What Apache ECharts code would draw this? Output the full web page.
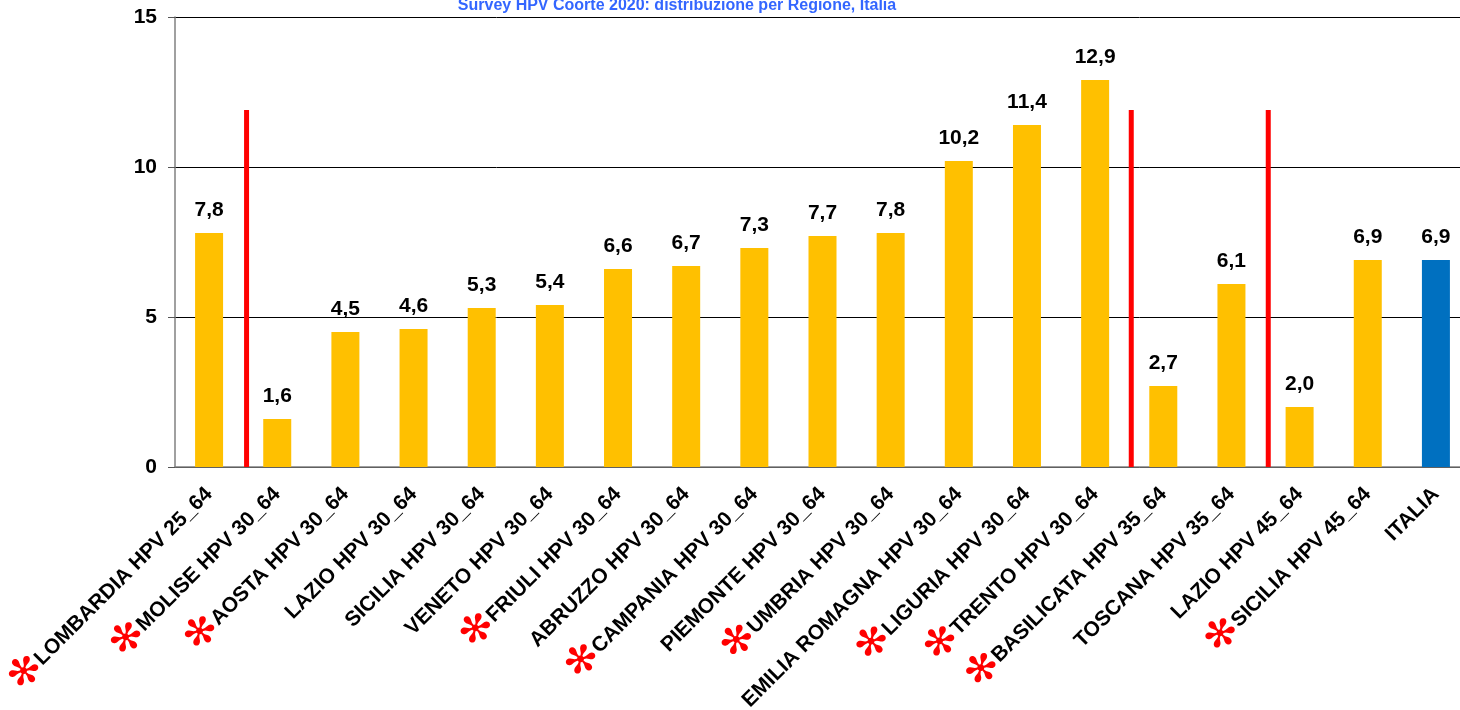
<!DOCTYPE html>
<html>
<head>
<meta charset="utf-8">
<script src="https://cdn.jsdelivr.net/npm/echarts@6/dist/echarts.min.js"></script>
<style>
  html, body { margin: 0; padding: 0; background: #fff; }
  #chart { width: 1460px; height: 710px; }
</style>
</head>
<body>
<div id="chart"></div>
<script>
// categorie e valori
const regioni = [
  'LOMBARDIA HPV 25_64', 'MOLISE HPV 30_64', 'AOSTA HPV 30_64', 'LAZIO HPV 30_64',
  'SICILIA HPV 30_64', 'VENETO HPV 30_64', 'FRIULI HPV 30_64', 'ABRUZZO HPV 30_64',
  'CAMPANIA HPV 30_64', 'PIEMONTE HPV 30_64', 'UMBRIA HPV 30_64', 'EMILIA ROMAGNA HPV 30_64',
  'LIGURIA HPV 30_64', 'TRENTO HPV 30_64', 'BASILICATA HPV 35_64', 'TOSCANA HPV 35_64',
  'LAZIO HPV 45_64', 'SICILIA HPV 45_64', 'ITALIA'
]
const valori = [7.8, 1.6, 4.5, 4.6, 5.3, 5.4, 6.6, 6.7, 7.3, 7.7, 7.8, 10.2, 11.4, 12.9, 2.7, 6.1, 2.0, 6.9, 6.9]
// regioni con asterisco
const conAsterisco = [0, 1, 2, 6, 8, 10, 12, 13, 14, 17]
// linee rosse di separazione (posizione sull'asse, altezza)
const separatori = [1.05, 14.03, 16.04]
const altezzaSeparatore = 11.9
const yTicks = [0, 5, 10, 15]

const chart = echarts.init(document.getElementById('chart'))

const barData = valori.map((v, i) => ({
  value: v,
  itemStyle: { color: regioni[i] === 'ITALIA' ? '#0070C0' : '#FFC000' }
}))

const sepSeries = separatori.map(x => ({
  type: 'line',
  xAxisIndex: 1,
  data: [[x, 0], [x, altezzaSeparatore]],
  symbol: 'none',
  silent: true,
  lineStyle: { color: '#FF0000', width: 5 },
  z: 5
}))

chart.setOption({
  animation: false,
  textStyle: { fontFamily: 'Liberation Sans, Arial, sans-serif' },
  title: {
    text: 'Survey HPV Coorte 2020: distribuzione per Regione, Italia',
    left: 672,
    textAlign: 'center',
    top: -7,
    textStyle: {
      color: '#3366FF',
      fontSize: 16,
      fontWeight: 'bold',
      fontFamily: 'Liberation Sans Narrow, Liberation Sans, sans-serif'
    }
  },
  grid: {
    left: 175,
    top: 17,
    width: 1295,
    height: 450,
    outerBoundsMode: 'none'
  },
  xAxis: [
    {
      type: 'category',
      data: regioni,
      axisLine: { lineStyle: { color: '#808080', width: 1.5 } },
      axisTick: { length: 7, lineStyle: { color: '#555' } },
      axisLabel: {
        interval: 0,
        rotate: 45,
        margin: 24,
        formatter(value, idx) {
          const t = '{t|' + value + '}'
          return conAsterisco.includes(idx) ? '{s|✻}' + t : t
        },
        rich: {
          t: { color: '#000', fontSize: 21, fontWeight: 'bold', fontFamily: 'Liberation Sans, Arial, sans-serif' },
          s: { color: '#FF0000', fontSize: 40, fontFamily: 'DejaVu Sans, sans-serif' }
        }
      }
    },
    {
      type: 'value',
      min: 0,
      max: regioni.length,
      show: false
    }
  ],
  yAxis: {
    type: 'value',
    min: yTicks[0],
    max: yTicks[yTicks.length - 1],
    interval: 5,
    axisLine: { show: true, lineStyle: { color: '#808080', width: 1.5 } },
    axisTick: { show: true, length: 7, lineStyle: { color: '#555' } },
    axisLabel: {
      color: '#000',
      fontSize: 21,
      fontWeight: 'bold',
      margin: 18
    },
    splitLine: { lineStyle: { color: '#000', width: 1 } }
  },
  series: [
    {
      type: 'bar',
      data: barData,
      barWidth: 28,
      label: {
        show: true,
        position: 'top',
        distance: 12,
        color: '#000',
        fontSize: 21,
        fontWeight: 'bold',
        formatter: p => p.value.toFixed(1).replace('.', ',')
      },
      z: 3
    },
    ...sepSeries
  ]
})
</script>
</body>
</html>
